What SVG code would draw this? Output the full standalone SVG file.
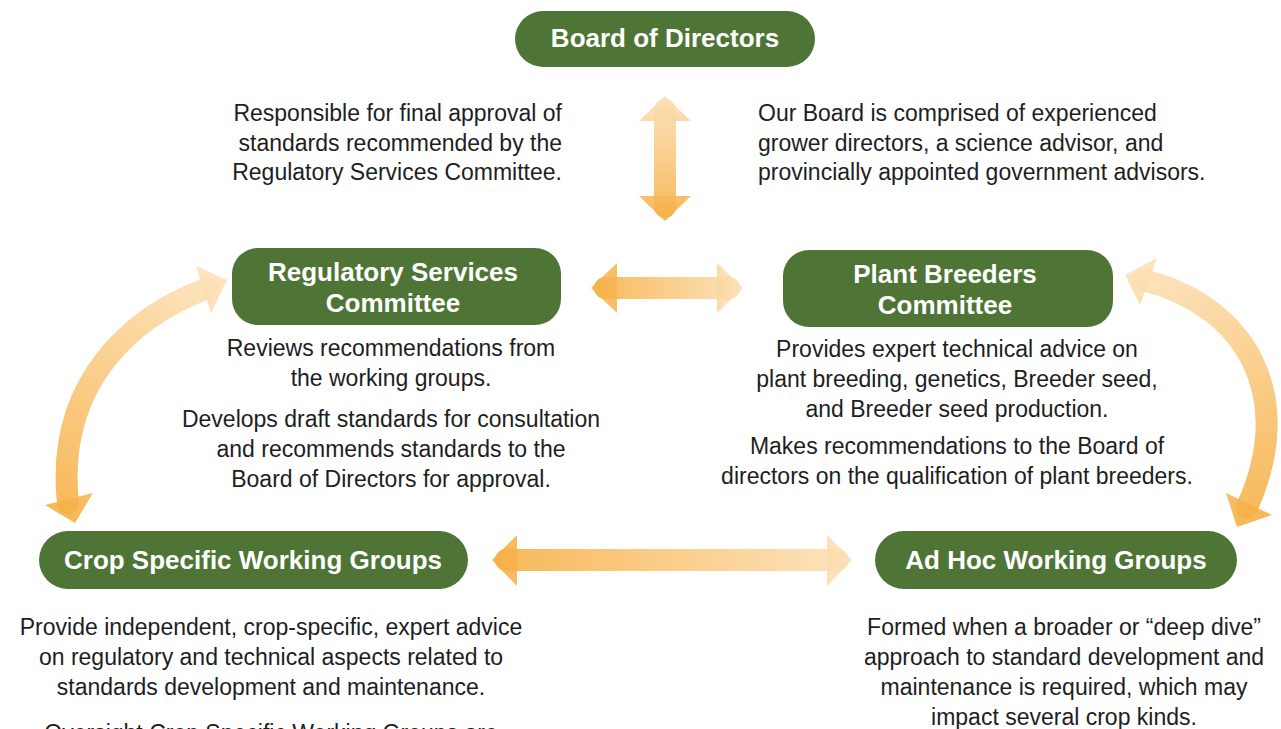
<svg xmlns="http://www.w3.org/2000/svg" width="1281" height="729" viewBox="0 0 1281 729">
<defs>
<style>
.node{fill:#4E7535}
.lbl{font-family:"Liberation Sans",Arial,sans-serif;font-weight:bold;font-size:26px;fill:#fff;text-anchor:middle}
.txt{font-family:"Liberation Sans",Arial,sans-serif;font-size:23px;fill:#1e1e1e}
.c{text-anchor:middle}
.shaft{fill:none;stroke-width:22;stroke-linecap:round;opacity:0.88}
.head{opacity:0.88}
</style>
<linearGradient id="gV" gradientUnits="userSpaceOnUse" x1="0" y1="96" x2="0" y2="221"><stop offset="0" stop-color="#FCE0B5"/><stop offset="1" stop-color="#F6AE42"/></linearGradient>
<linearGradient id="gH1" gradientUnits="userSpaceOnUse" x1="591" y1="0" x2="743" y2="0"><stop offset="0" stop-color="#F6AE42"/><stop offset="1" stop-color="#FCE0B5"/></linearGradient>
<linearGradient id="gH2" gradientUnits="userSpaceOnUse" x1="492" y1="0" x2="852" y2="0"><stop offset="0" stop-color="#F6AE42"/><stop offset="1" stop-color="#FCE0B5"/></linearGradient>
<linearGradient id="gL" gradientUnits="userSpaceOnUse" x1="208" y1="280" x2="70" y2="523"><stop offset="0" stop-color="#FCE0B5"/><stop offset="1" stop-color="#F6AE42"/></linearGradient>
<linearGradient id="gR" gradientUnits="userSpaceOnUse" x1="1143" y1="270" x2="1240" y2="527"><stop offset="0" stop-color="#FCE0B5"/><stop offset="1" stop-color="#F6AE42"/></linearGradient>
</defs>
<rect width="1281" height="729" fill="#fff"/>
<g id="connectors">
<g id="arrow-board-reg">
<path class="shaft" stroke="url(#gV)" d="M665,110 V207"/>
<polygon class="head" fill="url(#gV)" points="665,96 691,121 639,121"/>
<polygon class="head" fill="url(#gV)" points="665,221 691,196 639,196"/>
</g>
<g id="arrow-reg-plant">
<path class="shaft" stroke="url(#gH1)" d="M605,288 H729"/>
<polygon class="head" fill="url(#gH1)" points="591,288 617,263 617,313"/>
<polygon class="head" fill="url(#gH1)" points="743,288 717,263 717,313"/>
</g>
<g id="arrow-crop-adhoc">
<path class="shaft" stroke="url(#gH2)" d="M506,560 H838"/>
<polygon class="head" fill="url(#gH2)" points="492,560 517,535 517,586"/>
<polygon class="head" fill="url(#gH2)" points="852,560 827,535 827,586"/>
</g>
<g id="arrow-reg-crop">
<path class="shaft" stroke="url(#gL)" d="M208,288 C135,315 55,380 68,503"/>
<polygon class="head" fill="url(#gL)" points="227,280 196,266 211,313"/>
<polygon class="head" fill="url(#gL)" points="75,523 45,505 93,493"/>
</g>
<g id="arrow-plant-adhoc">
<path class="shaft" stroke="url(#gR)" d="M1143,280 C1245,305 1298,395 1247,507"/>
<polygon class="head" fill="url(#gR)" points="1125,275 1157,258 1140,305"/>
<polygon class="head" fill="url(#gR)" points="1237,527 1226,493 1272,515"/>
</g>
</g>
<g id="node-board">
<rect class="node" x="515" y="11" width="300" height="56" rx="28"/>
<text class="lbl" x="665" y="47">Board of Directors</text>
</g>
<g id="node-regulatory">
<rect class="node" x="232" y="248" width="329" height="77" rx="26"/>
<text class="lbl" x="393" y="281">Regulatory Services</text>
<text class="lbl" x="393" y="312">Committee</text>
</g>
<g id="node-plant">
<rect class="node" x="783" y="250" width="330" height="77" rx="26"/>
<text class="lbl" x="945" y="283">Plant Breeders</text>
<text class="lbl" x="945" y="314">Committee</text>
</g>
<g id="node-crop">
<rect class="node" x="39" y="531" width="429" height="58" rx="29"/>
<text class="lbl" x="253" y="569">Crop Specific Working Groups</text>
</g>
<g id="node-adhoc">
<rect class="node" x="875" y="531" width="362" height="58" rx="29"/>
<text class="lbl" x="1056" y="569">Ad Hoc Working Groups</text>
</g>
<g id="texts">
<text class="txt" text-anchor="end" x="562" y="121">Responsible for final approval of</text>
<text class="txt" text-anchor="end" x="562" y="151">standards recommended by the</text>
<text class="txt" text-anchor="end" x="562" y="180">Regulatory Services Committee.</text>
<text class="txt" x="758" y="121">Our Board is comprised of experienced</text>
<text class="txt" x="758" y="151">grower directors, a science advisor, and</text>
<text class="txt" x="758" y="180">provincially appointed government advisors.</text>
<text class="txt c" x="391" y="356">Reviews recommendations from</text>
<text class="txt c" x="391" y="386">the working groups.</text>
<text class="txt c" x="391" y="427">Develops draft standards for consultation</text>
<text class="txt c" x="391" y="457">and recommends standards to the</text>
<text class="txt c" x="391" y="487">Board of Directors for approval.</text>
<text class="txt c" x="957" y="357">Provides expert technical advice on</text>
<text class="txt c" x="957" y="387">plant breeding, genetics, Breeder seed,</text>
<text class="txt c" x="957" y="417">and Breeder seed production.</text>
<text class="txt c" x="957" y="454">Makes recommendations to the Board of</text>
<text class="txt c" x="957" y="484">directors on the qualification of plant breeders.</text>
<text class="txt c" x="271" y="635">Provide independent, crop-specific, expert advice</text>
<text class="txt c" x="271" y="665">on regulatory and technical aspects related to</text>
<text class="txt c" x="271" y="695">standards development and maintenance.</text>
<text class="txt c" x="271" y="741">Oversight Crop Specific Working Groups are</text>
<text class="txt c" x="1064" y="635">Formed when a broader or “deep dive”</text>
<text class="txt c" x="1064" y="665">approach to standard development and</text>
<text class="txt c" x="1064" y="695">maintenance is required, which may</text>
<text class="txt c" x="1064" y="725">impact several crop kinds.</text>
</g>
</svg>
